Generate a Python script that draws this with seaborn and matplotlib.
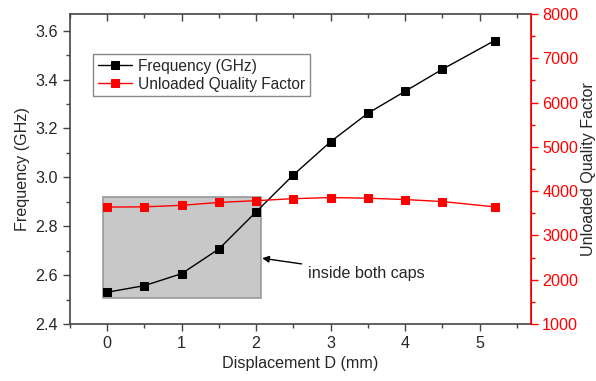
import matplotlib
matplotlib.use('Agg')
import matplotlib.pyplot as plt
from matplotlib.patches import Rectangle
from matplotlib.ticker import MultipleLocator
import seaborn as sns

# Data
displacement = [0, 0.5, 1, 1.5, 2, 2.5, 3, 3.5, 4, 4.5, 5.2]
frequency = [2.530, 2.557, 2.606, 2.707, 2.859, 3.010, 3.146, 3.262, 3.352, 3.442, 3.559]
quality = [3640, 3645, 3680, 3745, 3785, 3830, 3855, 3840, 3810, 3765, 3645]

# Region marked as "inside both caps"
cap_x = [-0.05, 2.06]
cap_y = [2.508, 2.921]

sns.set_style('ticks')
plt.rcParams['font.family'] = ['Liberation Sans', 'DejaVu Sans']
fs = 11.6
plt.rcParams['font.size'] = fs

fig, ax = plt.subplots(figsize=(5.96, 3.81), dpi=100)
fig.subplots_adjust(left=0.1174, right=0.891, bottom=0.1496, top=0.9633)
ax2 = ax.twinx()

ax.add_patch(Rectangle((cap_x[0], cap_y[0]), cap_x[1] - cap_x[0], cap_y[1] - cap_y[0],
                       facecolor='#c8c8c8', edgecolor='#999999', lw=1.2, zorder=1))

sns.lineplot(x=displacement, y=frequency, ax=ax, color='black', marker='s',
             markersize=5.5, markeredgecolor='black', lw=1, zorder=3,
             label='Frequency (GHz)', legend=False)
sns.lineplot(x=displacement, y=quality, ax=ax2, color='#ff0000', marker='s',
             markersize=5.5, markeredgecolor='#ff0000', lw=1, zorder=3,
             label='Unloaded Quality Factor', legend=False)

ax.set_xlim(-0.5, 5.69)
ax.set_ylim(2.4, 3.668)
ax2.set_ylim(1000, 8000)

ax.xaxis.set_major_locator(MultipleLocator(1))
ax.xaxis.set_minor_locator(MultipleLocator(0.5))
ax.yaxis.set_major_locator(MultipleLocator(0.2))
ax.yaxis.set_minor_locator(MultipleLocator(0.1))
ax2.yaxis.set_major_locator(MultipleLocator(1000))
ax2.yaxis.set_minor_locator(MultipleLocator(500))

ax.set_xlabel('Displacement D (mm)', fontsize=fs)
ax.set_ylabel('Frequency (GHz)', fontsize=fs)
ax2.set_ylabel('Unloaded Quality Factor', fontsize=fs, labelpad=2)

for s in ['left', 'bottom', 'top']:
    ax.spines[s].set_color('#444444')
    ax.spines[s].set_linewidth(1.2)
ax2.spines['right'].set_color('#ff0000')
ax2.spines['right'].set_linewidth(1.2)
for s in ['left', 'bottom', 'top']:
    ax2.spines[s].set_visible(False)

ax.tick_params(axis='both', which='major', length=5, width=1, color='#444444', labelsize=fs)
ax.tick_params(axis='both', which='minor', length=3, width=1, color='#444444')
ax2.tick_params(axis='y', which='major', length=5, width=1, color='#ff0000',
                labelcolor='#ff0000', labelsize=fs, pad=3)
ax2.tick_params(axis='y', which='minor', length=3, width=1, color='#ff0000')

# top axis: inward ticks, no labels
top = ax.secondary_xaxis('top')
top.xaxis.set_major_locator(MultipleLocator(1))
top.xaxis.set_minor_locator(MultipleLocator(0.5))
top.spines['top'].set_visible(False)
top.tick_params(which='major', direction='in', length=5, width=1, color='#444444',
                labeltop=False)
top.tick_params(which='minor', direction='in', length=3, width=1, color='#444444')

ax.annotate('inside both caps', xy=(2.08, 2.669), xytext=(2.69, 2.608),
            va='center', ha='left', fontsize=fs,
            arrowprops=dict(arrowstyle='-|>', color='black', lw=1, shrinkA=2, shrinkB=0,
                            mutation_scale=10))

h1, l1 = ax.get_legend_handles_labels()
h2, l2 = ax2.get_legend_handles_labels()
leg = ax2.legend(h1 + h2, l1 + l2, loc='upper left', bbox_to_anchor=(0.05, 0.871),
                 borderaxespad=0, fancybox=False, edgecolor='#888888', framealpha=1,
                 fontsize=11.2, handlelength=2.2, borderpad=0.3, labelspacing=0.2,
                 handletextpad=0.4)
leg.get_frame().set_linewidth(1)

fig.savefig('out.png', dpi=100)
